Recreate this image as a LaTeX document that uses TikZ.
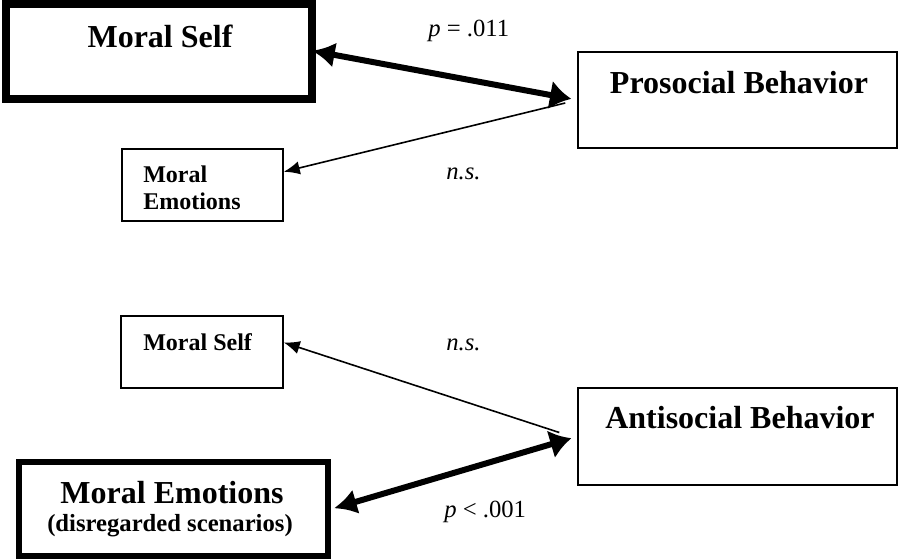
\documentclass[tikz,border=0pt]{standalone}
\usepackage{fontspec}
\setmainfont{Liberation Serif}
\usetikzlibrary{arrows.meta,fit,calc}
\begin{document}
\begin{tikzpicture}[x=0.75pt,y=-0.75pt,
  thickbox/.style={draw=black,line width=6pt,inner sep=0pt},
  heavybox/.style={draw=black,line width=5.2pt,inner sep=0pt},
  thinbox/.style={draw=black,line width=1.1pt,inner sep=0pt},
  bigtxt/.style={font=\bfseries\fontsize{24}{26}\selectfont,inner sep=0pt},
  smalltxt/.style={font=\bfseries\fontsize{18}{20}\selectfont,inner sep=0pt},
  subtxt/.style={font=\bfseries\fontsize{18.5}{20}\selectfont,inner sep=0pt},
  stat/.style={font=\fontsize{18.5}{20}\selectfont,inner sep=0pt},
  strong/.style={line width=4.5pt,{Latex[length=17pt,width=19pt]}-{Latex[length=16pt,width=22pt]}},
  weak/.style={line width=1.2pt,-{Latex[length=12pt,width=10pt]}}]
\useasboundingbox (0,0) rectangle (899,559);
\fill[white] (0,0) rectangle (899,559);
% boxes
\node[thickbox,fit={(6,4) (312,99)}] (ms) {};
\node[thinbox,fit={(578,52) (897,148)}] (pro) {};
\node[thinbox,fit={(122,149) (283,221)}] (mes) {};
\node[thinbox,fit={(121,316) (283,388)}] (msm) {};
\node[thinbox,fit={(578,388) (897,485)}] (ant) {};
\node[heavybox,fit={(19,462) (328,556)}] (meb) {};
% texts
\node[bigtxt,anchor=base] (t1) at (160,48) {Moral Self};
\node[bigtxt,anchor=base] (t2) at (739,94) {Prosocial Behavior};
\node[smalltxt,anchor=base west] (t3) at (143,183) {Moral};
\node[smalltxt,anchor=base west] (t4) at (143,210) {Emotions};
\node[smalltxt,anchor=base west] (t5) at (143,351) {Moral Self};
\node[bigtxt,anchor=base] (t6) at (740,428) {Antisocial Behavior};
\node[bigtxt,anchor=base] (t7) at (172,503) {Moral Emotions};
\node[subtxt,anchor=base] (t8) at (170,531) {(disregarded scenarios)};
\node[stat,anchor=base west] (s1) at (428,37) {\textit{p} = .011};
\node[stat,anchor=base west] (s2) at (446,180) {\textit{n.s.}};
\node[stat,anchor=base west] (s3) at (446,350) {\textit{n.s.}};
\node[stat,anchor=base west] (s4) at (444,517) {\textit{p} < .001};
% connectors
\coordinate (c1) at ($(pro.west)+(-12,3)$);
\coordinate (c2) at ($(ant.west)+(-18,-4)$);
\draw[strong,shorten <=-3pt,shorten >=4.5pt] (ms.east) -- (pro.west);
\draw[weak] (c1) -- ($(mes.north east)!0.32!(mes.south east)$);
\draw[weak] (c2) -- ($(msm.north east)!0.37!(msm.south east)$);
\draw[strong,shorten <=2pt,shorten >=4.5pt] (meb.east) -- (ant.west);
\end{tikzpicture}
\end{document}
